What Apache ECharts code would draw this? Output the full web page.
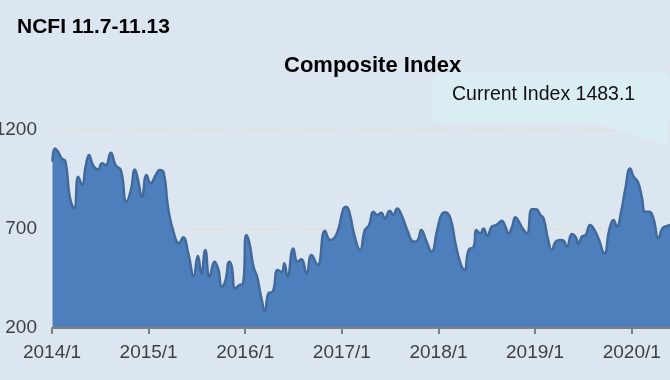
<!DOCTYPE html>
<html><head><meta charset="utf-8">
<script src="https://cdn.jsdelivr.net/npm/echarts@6/dist/echarts.min.js"></script>
<style>html,body{margin:0;padding:0;background:#dce6f1;}#c{width:670px;height:380px;}</style>
</head><body><div id="c"></div>
<script>
const dates = ['2014-01-03','2014-01-12','2014-01-24','2014-02-06','2014-02-21','2014-03-09','2014-03-26','2014-04-10','2014-04-25','2014-05-08','2014-05-21','2014-06-05','2014-06-24','2014-07-09','2014-07-23','2014-08-11','2014-08-29','2014-09-18','2014-10-09','2014-10-26','2014-11-10','2014-11-22','2014-12-07','2014-12-24',
'2015-01-09','2015-01-28','2015-02-12','2015-02-27','2015-03-15','2015-04-03','2015-04-26','2015-05-11','2015-06-01','2015-06-20','2015-07-06','2015-07-19','2015-08-03','2015-08-19','2015-09-07','2015-09-22','2015-10-04','2015-10-17','2015-11-02','2015-11-11','2015-11-24','2015-12-10','2015-12-23',
'2016-01-05','2016-01-17','2016-02-01','2016-02-15','2016-03-01','2016-03-16','2016-03-29','2016-04-14','2016-05-03','2016-05-18','2016-05-28','2016-06-09','2016-07-01','2016-07-17','2016-08-01','2016-08-20','2016-09-08','2016-10-01','2016-10-29','2016-11-18','2016-12-13',
'2017-01-07','2017-01-17','2017-01-29','2017-02-17','2017-03-11','2017-03-29','2017-04-14','2017-04-30','2017-05-15','2017-05-30','2017-06-12','2017-07-01','2017-07-14','2017-07-29','2017-08-17','2017-09-05','2017-09-30','2017-10-15','2017-10-28','2017-11-17','2017-12-06','2017-12-27',
'2018-01-15','2018-01-27','2018-02-15','2018-03-06','2018-03-25','2018-04-09','2018-04-25','2018-05-14','2018-05-24','2018-06-08','2018-06-20','2018-07-05','2018-07-21','2018-08-07','2018-08-22','2018-08-28','2018-09-10','2018-09-23','2018-10-06','2018-10-19','2018-11-03','2018-11-15','2018-12-01','2018-12-20',
'2019-01-04','2019-01-21','2019-02-02','2019-02-18','2019-03-05','2019-03-20','2019-04-06','2019-04-18','2019-05-01','2019-05-20','2019-06-04','2019-06-14','2019-06-26','2019-07-11','2019-07-28','2019-08-13','2019-08-28','2019-09-20','2019-10-08','2019-10-24','2019-11-06','2019-11-22','2019-12-07','2019-12-26',
'2020-01-08','2020-01-24','2020-02-08','2020-02-21','2020-03-07','2020-03-23','2020-04-11','2020-04-26','2020-05-12','2020-05-25'];
const values = [1040,1107,1090,1057,1040,863,804,964,922,1015,1074,1023,1001,1032,1023,1085,1023,998,838,897,1001,947,863,973,
931,973,998,984,813,695,628,658,569,463,565,476,594,459,535,493,409,434,535,510,400,417,422,
670,628,510,459,358,287,375,383,493,484,527,459,602,535,547,476,569,518,691,644,678,
804,813,787,670,594,695,720,787,771,782,754,792,771,804,762,695,636,644,695,636,585,695,
779,784,754,628,527,493,594,611,695,678,703,665,712,720,737,742,715,678,712,759,732,703,678,800,
800,771,754,653,594,636,644,641,611,675,658,624,661,670,720,695,653,577,695,745,712,787,897,1006,
964,939,863,787,787,754,653,703,715,720];
const xTickYears = [2014,2015,2016,2017,2018,2019,2020];
const yTicks = [200,700,1200];
const titleText = 'NCFI 11.7-11.13';
const subTitleText = 'Composite Index';
const currentLabel = 'Current Index 1483.1';

function toYear(s){
  const p = s.split('-').map(Number);
  const a = Date.UTC(p[0],0,1), b = Date.UTC(p[0]+1,0,1);
  return p[0] + (Date.UTC(p[0],p[1]-1,p[2]) - a) / (b - a);
}
const seriesData = dates.map((d,i)=>[toYear(d), values[i]]);
const FONT = '"Liberation Sans", Arial, sans-serif';

const chart = echarts.init(document.getElementById('c'), null, {renderer:'canvas'});
chart.setOption({
  backgroundColor:'#dce6f1',
  animation:false,
  title:[
    {text:titleText, left:17, top:17, padding:0, textStyle:{fontFamily:FONT, fontSize:21, fontWeight:'bold', color:'#000'}},
    {text:subTitleText, left:284, top:55, padding:0, textStyle:{fontFamily:FONT, fontSize:22, fontWeight:'bold', color:'#000'}}
  ],
  grid:{left:52, right:0, top:130, bottom:52, containLabel:false, outerBoundsMode:'none'},
  xAxis:{
    type:'value', min:2014, max:2020.396, interval:1, z:5,
    splitLine:{show:false},
    axisLine:{show:true, lineStyle:{color:'#7f7f7f', width:2}},
    axisTick:{show:true, length:6, customValues:xTickYears, lineStyle:{color:'#7f7f7f', width:2}},
    axisLabel:{customValues:xTickYears, formatter:v=>Math.round(v)+'/1', fontFamily:FONT, fontSize:19, color:'#404040', margin:15}
  },
  yAxis:{
    type:'value', min:200, max:1200, interval:500,
    axisLine:{show:false}, axisTick:{show:false},
    axisLabel:{customValues:yTicks, formatter:v=>String(v), fontFamily:FONT, fontSize:19, color:'#404040', margin:15},
    splitLine:{show:true, lineStyle:{color:'#e4ddd2', width:2, type:[4,3]}}
  },
  series:[{
    type:'line', data:seriesData, smooth:0.5, showSymbol:false,
    lineStyle:{color:'#41699a', width:2.5},
    areaStyle:{color:'#4c7fbc', opacity:1}
  }],
  graphic:[
    {type:'rect', shape:{x:432, y:73, width:238, height:50, r:8}, style:{fill:'#daedf3'}, z:10},
    {type:'polygon', shape:{points:[[590,122],[668,146],[668,122]]}, style:{fill:'#daedf3'}, z:10},
    {type:'text', x:452, y:95, style:{text:currentLabel, fill:'#111', font:'19.5px "Liberation Sans", Arial, sans-serif', verticalAlign:'middle'}, z:11}
  ]
});
</script>
</body></html>
